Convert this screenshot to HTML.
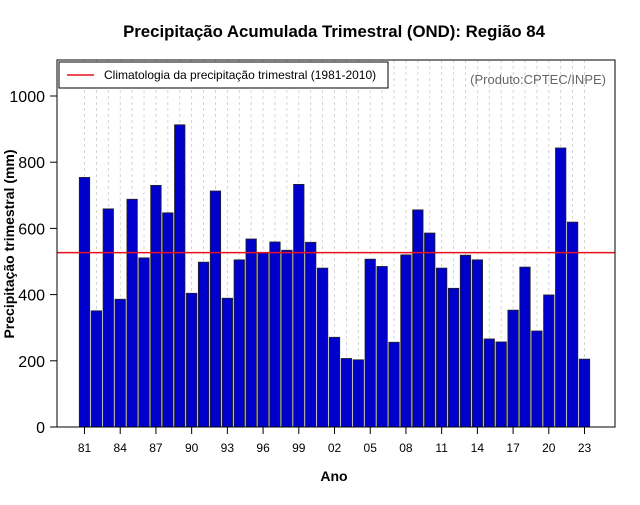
<!DOCTYPE html>
<html><head><meta charset="utf-8"><style>
body{margin:0;background:#fff;}
svg text{font-family:"Liberation Sans",Arial,sans-serif;}
</style></head><body>
<svg id="chart" width="640" height="500" xmlns="http://www.w3.org/2000/svg">
<rect width="640" height="500" fill="#fff"/>
<text x="334" y="37" text-anchor="middle" font-size="16.8" font-weight="bold">Precipitação Acumulada Trimestral (OND): Região 84</text>
<g id="grid"></g>
<g id="bars"></g>
<line id="clim" stroke="#e8121a" stroke-width="1.5"/>
<rect x="57" y="60" width="558" height="367" fill="none" stroke="#000" stroke-width="1"/>
<g id="yaxis"></g>
<g id="xaxis"></g>
<g>
<rect x="59" y="62" width="329" height="26" fill="#fff" stroke="#000" stroke-width="1"/>
<line x1="67" y1="75" x2="94" y2="75" stroke="#e8121a" stroke-width="1.5"/>
<text x="104" y="79" font-size="12">Climatologia da precipitação trimestral (1981-2010)</text>
</g>
<text x="606" y="84" text-anchor="end" font-size="13" fill="#666">(Produto:CPTEC/INPE)</text>
<text x="334" y="481" text-anchor="middle" font-size="14" font-weight="bold">Ano</text>
<text transform="translate(14,244) rotate(-90)" text-anchor="middle" font-size="14" font-weight="bold">Precipitação trimestral (mm)</text>
</svg>
<script>
const years=[1981,1982,1983,1984,1985,1986,1987,1988,1989,1990,1991,1992,1993,1994,1995,1996,1997,1998,1999,2000,2001,2002,2003,2004,2005,2006,2007,2008,2009,2010,2011,2012,2013,2014,2015,2016,2017,2018,2019,2020,2021,2022,2023];
const values=[754,351,659,386,688,511,730,647,913,404,498,713,389,505,568,527,559,534,733,558,480,271,207,203,507,485,256,520,656,586,480,419,519,505,266,257,353,483,290,399,843,619,205];
const climatology=527;
const yTicks=[0,200,400,600,800,1000];
const xTickLabels=["81","84","87","90","93","96","99","02","05","08","11","14","17","20","23"];
const NS="http://www.w3.org/2000/svg";
function y(v){return 427-v*0.331;}
function xc(i){return 84.5+i*11.905;}
const bw=10.4;
const grid=document.getElementById('grid'),bars=document.getElementById('bars');
years.forEach((yr,i)=>{
 const g=document.createElementNS(NS,'line');
 g.setAttribute('x1',xc(i));g.setAttribute('x2',xc(i));g.setAttribute('y1',60);g.setAttribute('y2',427);
 g.setAttribute('stroke','#ccc');g.setAttribute('stroke-dasharray','3,3');g.setAttribute('stroke-width','0.8');
 
 
 grid.appendChild(g);
 const r=document.createElementNS(NS,'rect');
 r.setAttribute('x',xc(i)-bw/2);r.setAttribute('y',y(values[i]));r.setAttribute('width',bw);r.setAttribute('height',427-y(values[i]));
 r.setAttribute('fill','#0000cd');r.setAttribute('stroke','#222');r.setAttribute('stroke-width','0.8');
 
 
 bars.appendChild(r);
});
const c=document.getElementById('clim');
c.setAttribute('x1',57);c.setAttribute('x2',615);c.setAttribute('y1',y(climatology));c.setAttribute('y2',y(climatology));
const ya=document.getElementById('yaxis');
yTicks.forEach(t=>{
 const l=document.createElementNS(NS,'line');
 l.setAttribute('x1',50);l.setAttribute('x2',57);l.setAttribute('y1',y(t));l.setAttribute('y2',y(t));l.setAttribute('stroke','#000');
 
 
 ya.appendChild(l);
 const tx=document.createElementNS(NS,'text');
 tx.setAttribute('x',45);tx.setAttribute('y',y(t)+6);tx.setAttribute('text-anchor','end');tx.setAttribute('font-size','16');
 tx.textContent=t;
 
 
 ya.appendChild(tx);
});
const xa=document.getElementById('xaxis');
xTickLabels.forEach((lab,k)=>{
 const i=k*3;
 const l=document.createElementNS(NS,'line');
 l.setAttribute('x1',xc(i));l.setAttribute('x2',xc(i));l.setAttribute('y1',427);l.setAttribute('y2',434);l.setAttribute('stroke','#000');
 
 
 xa.appendChild(l);
 const tx=document.createElementNS(NS,'text');
 tx.setAttribute('x',xc(i));tx.setAttribute('y',452);tx.setAttribute('text-anchor','middle');tx.setAttribute('font-size','12');
 tx.textContent=lab;
 
 
 xa.appendChild(tx);
});
</script>
</body></html>
